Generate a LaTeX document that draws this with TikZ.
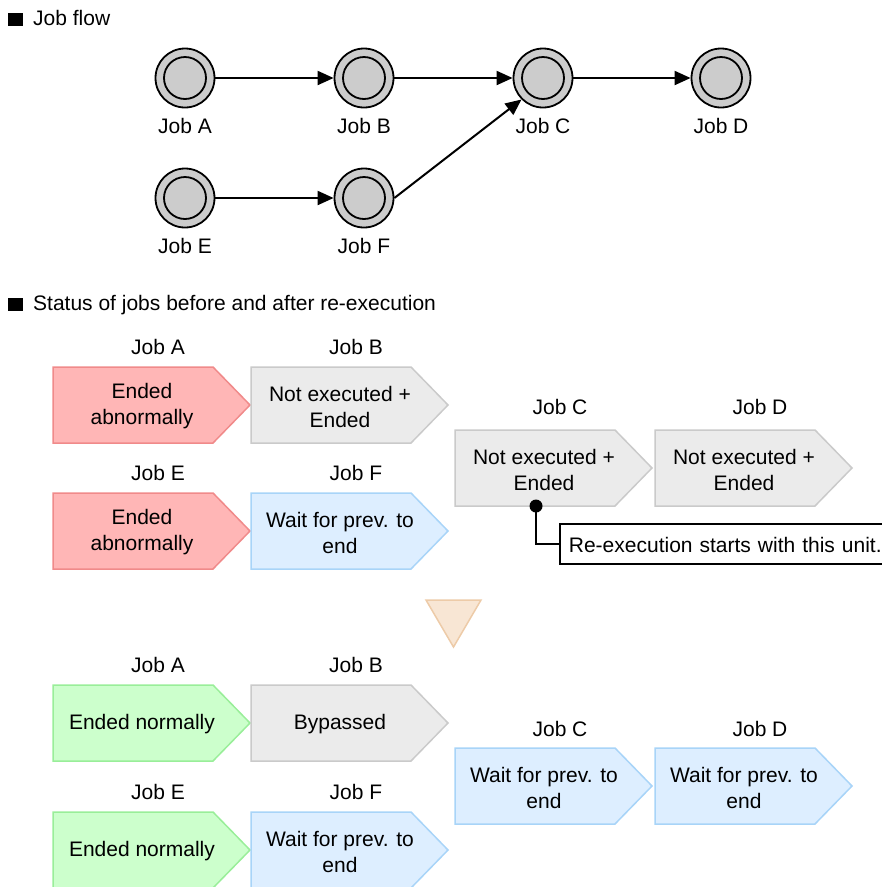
\documentclass[tikz,border=0pt]{standalone}
\usepackage{fontspec}
\setmainfont{Liberation Sans}
\usetikzlibrary{arrows.meta}

\definecolor{ringgray}{HTML}{CCCCCC}
\definecolor{redfill}{HTML}{FFB6B6}
\definecolor{redline}{HTML}{F08A8A}
\definecolor{grayfill}{HTML}{EBEBEB}
\definecolor{grayline}{HTML}{CACACA}
\definecolor{bluefill}{HTML}{DDEEFF}
\definecolor{blueline}{HTML}{A8D4F8}
\definecolor{greenfill}{HTML}{CCFFCC}
\definecolor{greenline}{HTML}{99EE99}
\definecolor{trifill}{HTML}{F8E6D4}
\definecolor{triline}{HTML}{EDCBA8}

% state box: name, left x, top y, colour style, text, job label, label rise
\newcommand\statebox[7]{%
  \begin{scope}[shift={(#2,#3)}]
    \path[#4, line width=1.5pt, line join=miter]
      (0,0) -- (160,0) -- (197,38) -- (160,76) -- (0,76) -- cycle;
    \node[boxtext] (#1) at (89,38) {#5};
    \node[lbl] (#1-lbl) at (105,-#7) {#6};
  \end{scope}}

\begin{document}
\begin{tikzpicture}[x=1pt, y=-1pt,
  font=\fontsize{21}{26}\selectfont,
  jobc/.style={circle, draw, line width=1.8pt, fill=ringgray,
               minimum size=59pt, inner sep=0pt},
  ring/.style={draw, line width=1.8pt},
  flow/.style={line width=2pt, -{Triangle[length=16pt, width=14pt]}},
  lbl/.style={anchor=base, inner sep=0pt},
  hdrsq/.style={fill=black, minimum width=15pt, minimum height=13pt, inner sep=0pt},
  hdr/.style={anchor=base west, inner sep=0pt},
  boxtext/.style={align=center, inner sep=0pt, yshift=-1.5pt},
  redbox/.style={fill=redfill, draw=redline},
  graybox/.style={fill=grayfill, draw=grayline},
  bluebox/.style={fill=bluefill, draw=blueline},
  greenbox/.style={fill=greenfill, draw=greenline},
  callout/.style={draw, line width=1.8pt, fill=white, minimum height=40pt,
                  text width=314pt, align=left, inner xsep=9pt,
                  text height=17pt, text depth=0pt},
  dot/.style={circle, fill=black, minimum size=13pt, inner sep=0pt},
  pinline/.style={line width=2.5pt},
  tri/.style={fill=trifill, draw=triline, line width=1.5pt, line join=miter}]

\useasboundingbox (0,0) rectangle (882,887);

% ---- headings ----
\node[hdrsq] (sq1) at (15.5,19) {};
\node[hdr] (h1) at (33,25) {Job flow};
\node[hdrsq] (sq2) at (15.5,304) {};
\node[hdr] (h2) at (33,310) {Status of jobs before and after re-execution};

% ---- job flow ----
\foreach \n/\x/\y in {A/185/78, B/364/78, C/543/78, D/721/78, E/185/198, F/364/198}{
  \node[jobc] (\n) at (\x,\y) {};
  \draw[ring] (\n.center) circle[radius=21];
  \node[lbl] (\n-name) at (\x,\y+55) {Job \n};
}
\draw[flow] (A) -- (B);
\draw[flow] (B) -- (C);
\draw[flow] (C) -- (D);
\draw[flow] (E) -- (F);
\draw[flow] (F.east) -- (C.225);

% ---- status before re-execution ----
\statebox{bA}{53}{367}{redbox}{Ended\\abnormally}{Job A}{13}
\statebox{bB}{251}{367}{graybox}{Not executed +\\Ended}{Job B}{13}
\statebox{bE}{53}{493}{redbox}{Ended\\abnormally}{Job E}{13}
\statebox{bF}{251}{493}{bluebox}{Wait for prev. to\\end}{Job F}{13}
\statebox{bC}{455}{430}{graybox}{Not executed +\\Ended}{Job C}{16}
\statebox{bD}{655}{430}{graybox}{Not executed +\\Ended}{Job D}{16}

% restart marker
\node[callout, anchor=north west] (note) at (559,523) {Re-execution starts with this unit.};
\node[dot] (pin) at (536,506) {};
\draw[pinline] (pin.center) |- (note.west);

% transition marker
\path[tri] (426,600) -- (481,600) -- (453.5,647) -- cycle;

% ---- status after re-execution ----
\statebox{aA}{53}{685}{greenbox}{Ended normally}{Job A}{13}
\statebox{aB}{251}{685}{graybox}{Bypassed}{Job B}{13}
\statebox{aE}{53}{812}{greenbox}{Ended normally}{Job E}{13}
\statebox{aF}{251}{812}{bluebox}{Wait for prev. to\\end}{Job F}{13}
\statebox{aC}{455}{748}{bluebox}{Wait for prev. to\\end}{Job C}{12}
\statebox{aD}{655}{748}{bluebox}{Wait for prev. to\\end}{Job D}{12}

\end{tikzpicture}
\end{document}
